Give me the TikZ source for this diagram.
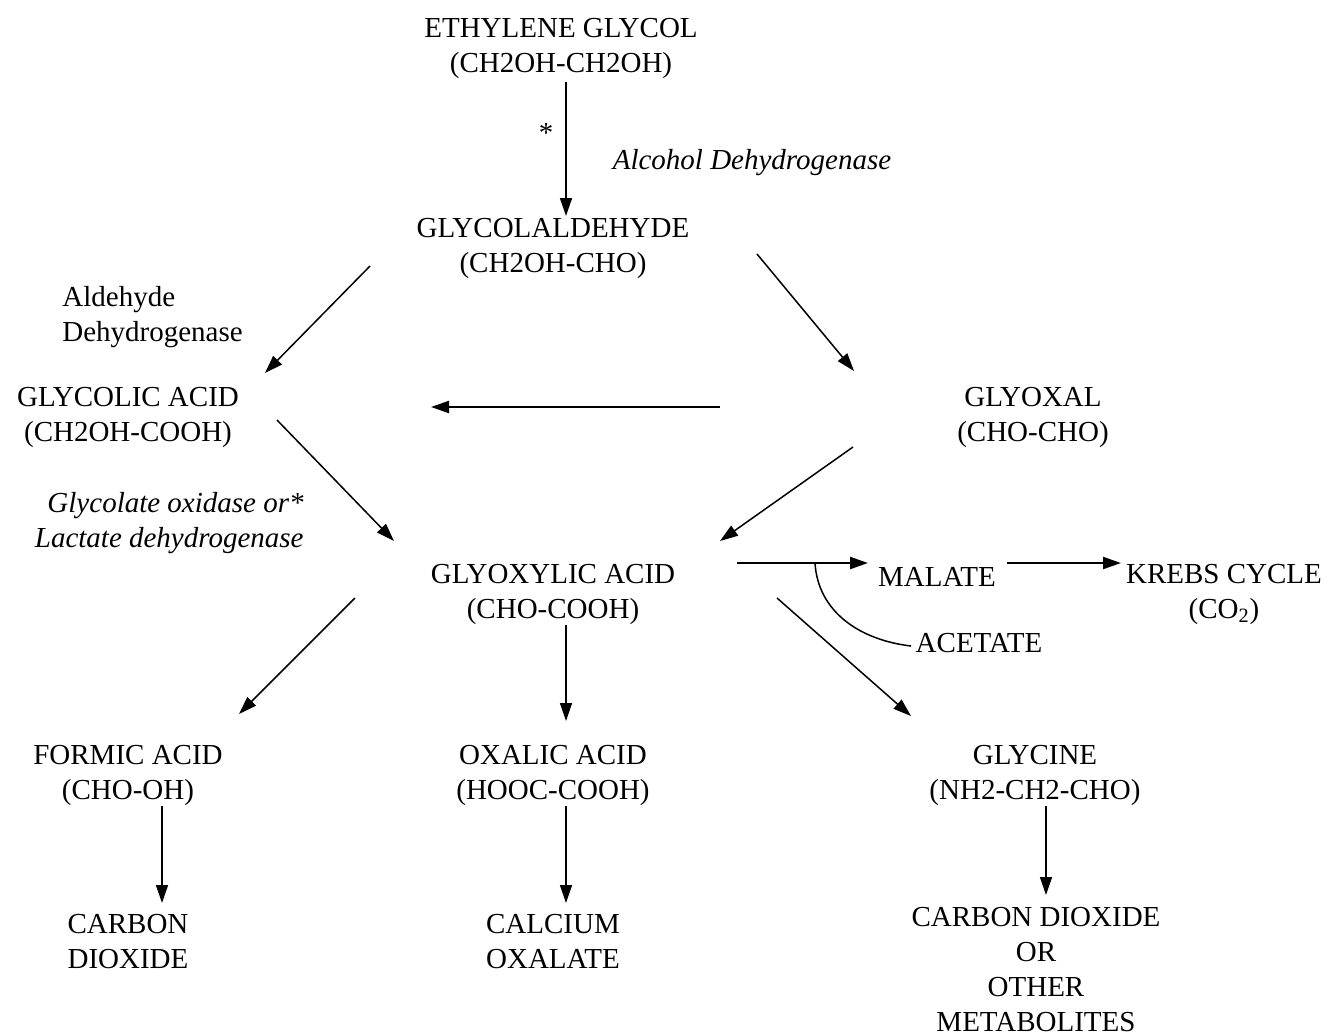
\documentclass[tikz,border=0pt]{standalone}
\usepackage{fontspec}
\setmainfont{Liberation Serif}
\usetikzlibrary{arrows.meta}
\begin{document}
\begin{tikzpicture}[x=0.5pt,y=-0.5pt,
  lbl/.style={inner sep=0pt,align=center,font=\fontsize{14.5}{17.5}\selectfont},
  arr/.style={line width=0.75pt,-{Triangle[length=9pt,width=6pt]}},
  harr/.style={line width=1.1pt,-{Triangle[length=9pt,width=6pt]}}]
\useasboundingbox (0,0) rectangle (1329,1034);
% nodes
\node[lbl] (eg) at (561,48) {ETHYLENE GLYCOL\\(CH2OH-CH2OH)};
\node[lbl] (gald) at (553,248) {GLYCOLALDEHYDE\\(CH2OH-CHO)};
\node[lbl] (gla) at (128,417) {GLYCOLIC ACID\\(CH2OH-COOH)};
\node[lbl] (glx) at (1033,417) {GLYOXAL\\(CHO-CHO)};
\node[lbl] (gxa) at (553,594) {GLYOXYLIC ACID\\(CHO-COOH)};
\node[lbl] (mal) at (937,577) {MALATE};
\node[lbl] (krebs) at (1224,594) {KREBS CYCLE\\(CO\textsubscript{2})};
\node[lbl] (acet) at (979,643) {ACETATE};
\node[lbl] (form) at (128,775) {FORMIC ACID\\(CHO-OH)};
\node[lbl] (oxa) at (553,775) {OXALIC ACID\\(HOOC-COOH)};
\node[lbl] (gly) at (1035,775) {GLYCINE\\(NH2-CH2-CHO)};
\node[lbl] (cd) at (128,942) {CARBON\\DIOXIDE};
\node[lbl] (co) at (553,942) {CALCIUM\\OXALATE};
\node[lbl] (cdm) at (1036,970) {CARBON DIOXIDE\\OR\\OTHER\\METABOLITES};
\node[lbl] (star) at (546,133) {*};
\node[lbl,font=\fontsize{14.5}{17.5}\selectfont\itshape] (adh) at (752,163) {Alcohol Dehydrogenase};
\node[lbl,align=left,anchor=west] (aldh) at (62,317) {Aldehyde\\Dehydrogenase};
\node[lbl,align=right,anchor=east,font=\fontsize{14.5}{17.5}\selectfont\itshape] (gox) at (304,523) {Glycolate oxidase or*\\Lactate dehydrogenase};
% connector end points
\coordinate (a1s) at (566,82);   \coordinate (a1e) at (566,216);
\coordinate (a2s) at (370,266);  \coordinate (a2e) at (265,373);
\coordinate (a3s) at (757,254);  \coordinate (a3e) at (854,371);
\coordinate (a4s) at (720,407);  \coordinate (a4e) at (431,407);
\coordinate (a5s) at (277,420);  \coordinate (a5e) at (394,541);
\coordinate (a6s) at (853,447);  \coordinate (a6e) at (720,541);
\coordinate (a7s) at (737,563);  \coordinate (a7e) at (868,563);
\coordinate (a8s) at (1007,563); \coordinate (a8e) at (1121,563);
\coordinate (a9s) at (355,598);  \coordinate (a9e) at (239,714);
\coordinate (a10s) at (566,625); \coordinate (a10e) at (566,721);
\coordinate (a11s) at (777,598); \coordinate (a11e) at (911,716);
\coordinate (a12s) at (162,806); \coordinate (a12e) at (162,903);
\coordinate (a13s) at (566,806); \coordinate (a13e) at (566,903);
\coordinate (a14s) at (1046,806);\coordinate (a14e) at (1046,895);
\coordinate (cvs) at (815,563);  \coordinate (cve) at (911,646);
% connectors
\draw[arr] (a1s) -- (a1e);
\draw[arr] (a2s) -- (a2e);
\draw[arr] (a3s) -- (a3e);
\draw[harr] (a4s) -- (a4e);
\draw[arr] (a5s) -- (a5e);
\draw[arr] (a6s) -- (a6e);
\draw[harr] (a7s) -- (a7e);
\draw[harr] (a8s) -- (a8e);
\draw[arr] (a9s) -- (a9e);
\draw[arr] (a10s) -- (a10e);
\draw[arr] (a11s) -- (a11e);
\draw[arr] (a12s) -- (a12e);
\draw[arr] (a13s) -- (a13e);
\draw[arr] (a14s) -- (a14e);
\draw[line width=0.75pt] (cvs) .. controls (818,612) and (860,640) .. (cve);
\end{tikzpicture}
\end{document}
